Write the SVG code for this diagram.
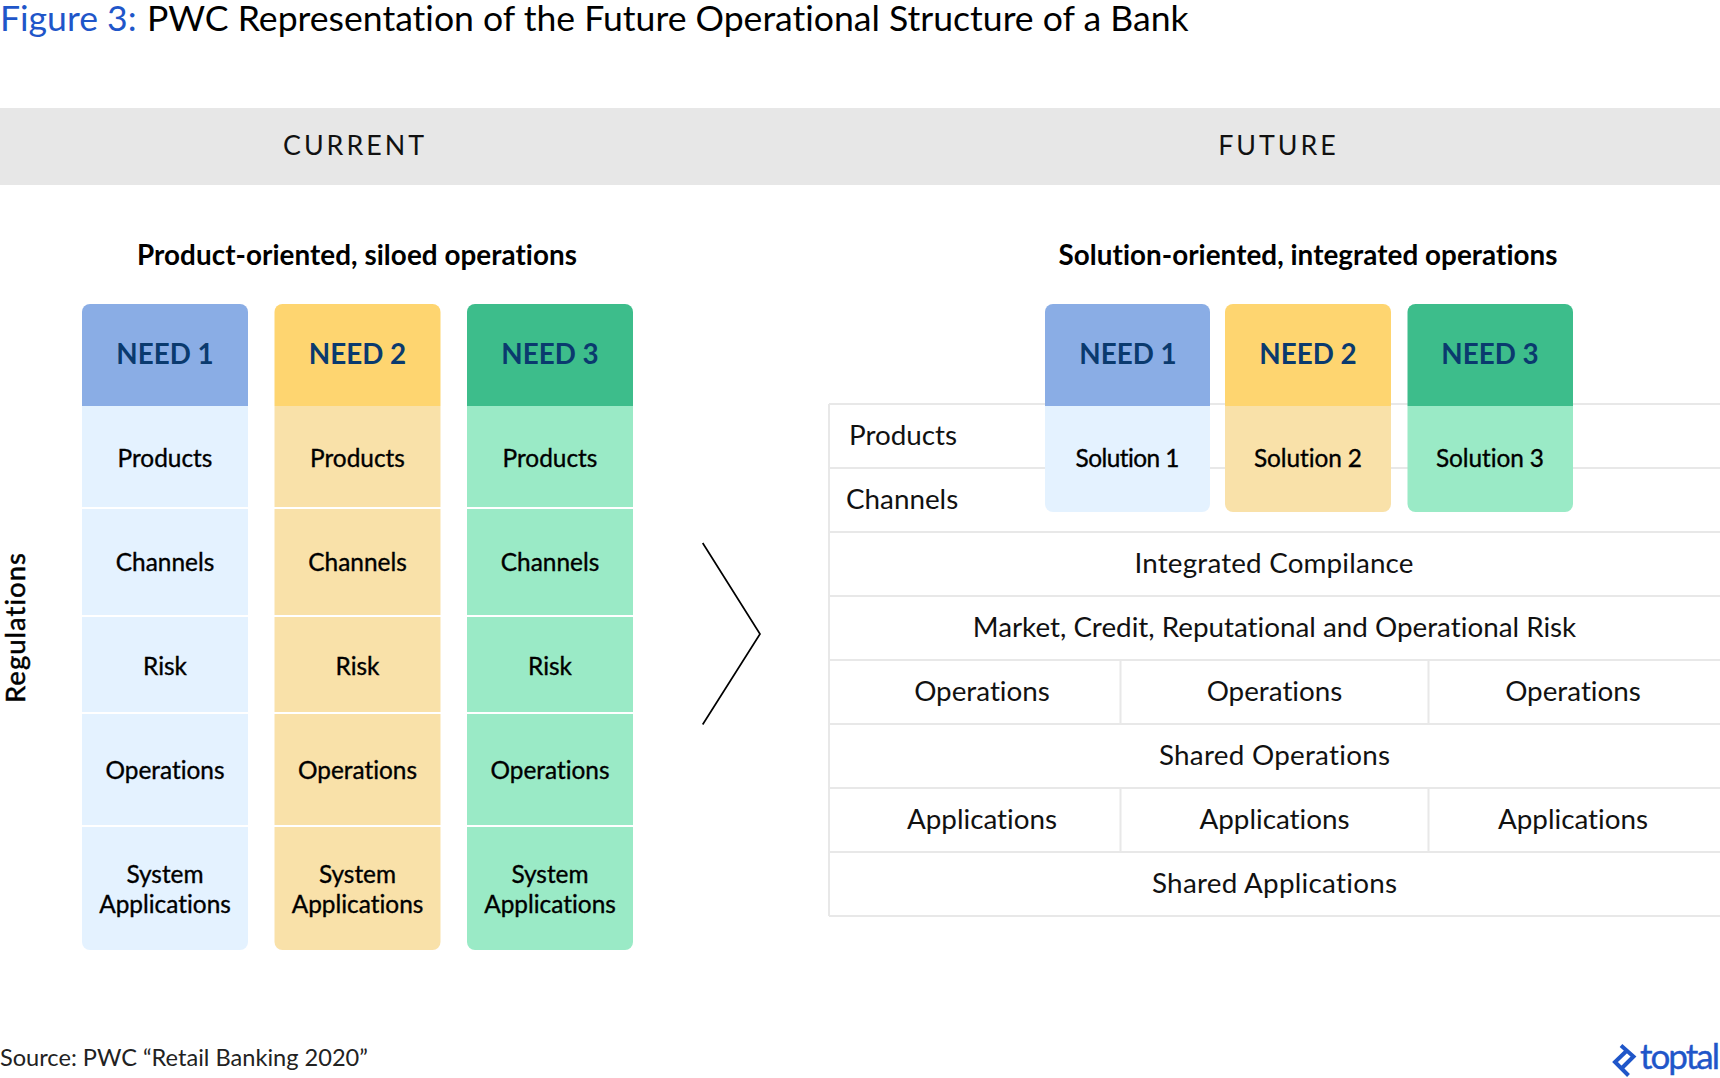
<svg xmlns="http://www.w3.org/2000/svg" width="1720" height="1078" viewBox="0 0 1720 1078">
<style>
text{font-family:"Lato","Noto Sans",sans-serif;fill:#000;font-variant-ligatures:none}
.c{text-anchor:middle}
.title{font-size:35.600px}
.band{font-size:26.800px;letter-spacing:3px;fill:#111}
.sub{font-size:27.800px;font-weight:700}
.reg{font-size:27.500px;stroke:#000;stroke-width:.5px}
.need{font-size:27.800px;font-weight:700;fill:#0a3a6e}
.cell{font-size:24.400px;stroke:#000;stroke-width:.35px}
.row{font-size:27.800px;fill:#111}
.src{font-size:23.600px;fill:#222}
.g{fill:none;stroke:#e8e8e8;stroke-width:2}
</style>
<defs>
<g id="col5">
<rect x="0" y="102" width="166" height="101"/>
<rect x="0" y="205" width="166" height="106"/>
<rect x="0" y="313" width="166" height="95"/>
<rect x="0" y="410" width="166" height="111"/>
<path d="M0 523H166V638a8 8 0 0 1-8 8H8a8 8 0 0 1-8-8z"/>
</g>
</defs>
<rect width="1720" height="1078" fill="#fff"/>
<g id="title"><text class="title" x="0" y="30.500"><tspan fill="#1f56c9">Figure 3:</tspan><tspan x="147">PWC Representation of the Future Operational Structure of a Bank</tspan></text></g>
<g id="band"><rect x="0" y="108" width="1720" height="77" fill="#e7e7e7"/>
<text class="band c" x="355" y="155">CURRENT</text><text class="band c" x="1278.500" y="155">FUTURE</text></g>
<text class="sub c" x="357" y="265" textLength="440">Product-oriented, siloed operations</text>
<text class="sub c" x="1308" y="265" textLength="499">Solution-oriented, integrated operations</text>
<text class="reg" transform="translate(24.500 703) rotate(-90)" textLength="150">Regulations</text>

<g id="current-need-1">
<use href="#col5" x="82" y="304" fill="#e4f2ff"/>
<path d="M82 406V312a8 8 0 0 1 8-8H240a8 8 0 0 1 8 8V406z" fill="#8aade5"/>
<text class="need c" x="165" y="364">NEED 1</text>
<text class="cell c" x="165" y="467">Products</text><text class="cell c" x="165" y="571">Channels</text><text class="cell c" x="165" y="675">Risk</text><text class="cell c" x="165" y="779">Operations</text><text class="cell c" x="165" y="883">System</text><text class="cell c" x="165" y="913">Applications</text>
</g>
<g id="current-need-2">
<use href="#col5" x="274.500" y="304" fill="#f9e1a9"/>
<path d="M274.500 406V312a8 8 0 0 1 8-8H432.500a8 8 0 0 1 8 8V406z" fill="#fed570"/>
<text class="need c" x="357.500" y="364">NEED 2</text>
<text class="cell c" x="357.500" y="467">Products</text><text class="cell c" x="357.500" y="571">Channels</text><text class="cell c" x="357.500" y="675">Risk</text><text class="cell c" x="357.500" y="779">Operations</text><text class="cell c" x="357.500" y="883">System</text><text class="cell c" x="357.500" y="913">Applications</text>
</g>
<g id="current-need-3">
<use href="#col5" x="467" y="304" fill="#9aeac6"/>
<path d="M467 406V312a8 8 0 0 1 8-8H625a8 8 0 0 1 8 8V406z" fill="#3dbd8b"/>
<text class="need c" x="550" y="364">NEED 3</text>
<text class="cell c" x="550" y="467">Products</text><text class="cell c" x="550" y="571">Channels</text><text class="cell c" x="550" y="675">Risk</text><text class="cell c" x="550" y="779">Operations</text><text class="cell c" x="550" y="883">System</text><text class="cell c" x="550" y="913">Applications</text>
</g>

<g id="connectors"><path d="M702.700 543L760 634L702.700 724.500" fill="none" stroke="#000" stroke-width="1.700"/></g>

<g id="future-table">
<path class="g" d="M829 404H1720M829 468H1720M829 532H1720M829 596H1720M829 660H1720M829 724H1720M829 788H1720M829 852H1720M829 916H1720M829 404V916M1120.500 660V724M1428.500 660V724M1120.500 788V852M1428.500 788V852"/>
<text class="row" x="849" y="445">Products</text><text class="row" x="846" y="509">Channels</text>
<text class="row c" x="1274" y="573" textLength="279">Integrated Compilance</text>
<text class="row c" x="1274.500" y="637">Market, Credit, Reputational and Operational Risk</text>
<text class="row c" x="982" y="701">Operations</text><text class="row c" x="1274.500" y="701">Operations</text><text class="row c" x="1573" y="701">Operations</text>
<text class="row c" x="1274.500" y="765" textLength="231">Shared Operations</text>
<text class="row c" x="982" y="829">Applications</text><text class="row c" x="1274.500" y="829">Applications</text><text class="row c" x="1573" y="829">Applications</text>
<text class="row c" x="1274.500" y="893" textLength="245">Shared Applications</text>
</g>
<g id="future-need-1">
<path d="M1045 406V312a8 8 0 0 1 8-8H1202a8 8 0 0 1 8 8V406z" fill="#8aade5"/>
<path d="M1045 406H1210V504a8 8 0 0 1-8 8H1053a8 8 0 0 1-8-8z" fill="#e4f2ff"/>
<text class="need c" x="1128" y="364">NEED 1</text><text class="cell c" x="1127.500" y="467" textLength="104">Solution 1</text>
</g>
<g id="future-need-2">
<path d="M1225 406V312a8 8 0 0 1 8-8H1383a8 8 0 0 1 8 8V406z" fill="#fed570"/>
<path d="M1225 406H1391V504a8 8 0 0 1-8 8H1233a8 8 0 0 1-8-8z" fill="#f9e1a9"/>
<text class="need c" x="1308" y="364">NEED 2</text><text class="cell c" x="1308" y="467" textLength="108">Solution 2</text>
</g>
<g id="future-need-3">
<path d="M1407.500 406V312a8 8 0 0 1 8-8H1565a8 8 0 0 1 8 8V406z" fill="#3dbd8b"/>
<path d="M1407.500 406H1573V504a8 8 0 0 1-8 8H1415.500a8 8 0 0 1-8-8z" fill="#9aeac6"/>
<text class="need c" x="1490" y="364">NEED 3</text><text class="cell c" x="1490" y="467" textLength="108">Solution 3</text>
</g>
<text class="src" x="0" y="1066">Source: PWC “Retail Banking 2020”</text>
<g id="logo">
<path d="M1621 1045.500L1633.500 1056.500L1622 1068M1627.500 1050L1615 1062L1628.500 1075.500" fill="none" stroke="#1f56c9" stroke-width="4"/>
<text x="1640" y="1069" font-size="35" textLength="80" style="fill:#1f56c9;stroke:#1f56c9;stroke-width:.4px">toptal</text>
</g>
</svg>
